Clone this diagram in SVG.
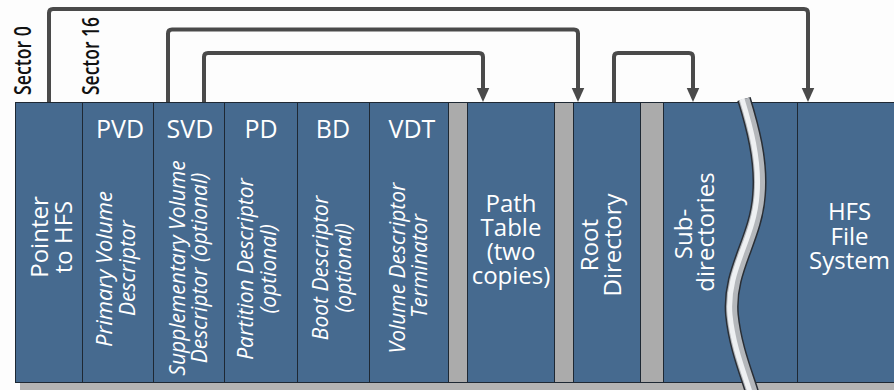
<svg xmlns="http://www.w3.org/2000/svg" width="894" height="390" viewBox="0 0 894 390">
<style>
.blk{fill:#466a8f;stroke:#1e2833;stroke-width:1}
.gap{fill:#ababab;stroke:#1e2833;stroke-width:1}
.hd{font-family:"Open Sans","Noto Sans",sans-serif;font-size:25px;fill:#fff;text-anchor:middle}
.big{font-family:"Open Sans","Noto Sans",sans-serif;font-size:24px;fill:#fff;text-anchor:middle}
.it{font-family:"Open Sans","Noto Sans",sans-serif;font-size:21px;font-style:italic;fill:#fff;text-anchor:middle}
.sec{font-family:"Open Sans","Noto Sans",sans-serif;font-size:23px;font-weight:600;fill:#111}
.con{fill:none;stroke:#4a4a4a;stroke-width:4;stroke-linejoin:round}
</style>
<defs>
<marker id="arr" markerUnits="userSpaceOnUse" markerWidth="15" markerHeight="14" viewBox="0 0 15 14" refX="0.5" refY="7" orient="auto">
<path d="M0,0.5 L14.5,7 L0,13.5 Z" fill="#4a4a4a"/>
</marker>
</defs>
<rect x="0" y="0" width="894" height="390" fill="#fdfdfd"/>
<rect x="20" y="383" width="880" height="7" fill="#b3b3b3"/>

<g id="pointer"><rect class="blk" x="15.5" y="102.5" width="67" height="280"/>
<text class="big" font-size="27" transform="translate(48,237) rotate(-90)">Pointer</text>
<text class="big" font-size="27" transform="translate(72,237) rotate(-90)">to HFS</text></g>

<g id="pvd"><rect class="blk" x="82.5" y="102.5" width="71" height="280"/>
<text class="hd" x="120" y="138">PVD</text>
<text class="it" textLength="156" lengthAdjust="spacingAndGlyphs" transform="translate(112,269) rotate(-90)">Primary Volume</text>
<text class="it" transform="translate(135,268) rotate(-90)">Descriptor</text></g>

<g id="svd"><rect class="blk" x="153.5" y="102.5" width="71" height="280"/>
<text class="hd" x="190" y="138">SVD</text>
<text class="it" transform="translate(185,268) rotate(-90)">Supplementary Volume</text>
<text class="it" transform="translate(207,268) rotate(-90)">Descriptor (optional)</text></g>

<g id="pd"><rect class="blk" x="224.5" y="102.5" width="73" height="280"/>
<text class="hd" x="261" y="138">PD</text>
<text class="it" transform="translate(253,269) rotate(-90)">Partition Descriptor</text>
<text class="it" transform="translate(276,269) rotate(-90)">(optional)</text></g>

<g id="bd"><rect class="blk" x="297.5" y="102.5" width="72" height="280"/>
<text class="hd" x="333" y="138">BD</text>
<text class="it" transform="translate(328,268) rotate(-90)">Boot Descriptor</text>
<text class="it" transform="translate(351,268) rotate(-90)">(optional)</text></g>

<g id="vdt"><rect class="blk" x="369.5" y="102.5" width="79" height="280"/>
<text class="hd" x="412" y="138">VDT</text>
<text class="it" transform="translate(405,268) rotate(-90)">Volume Descriptor</text>
<text class="it" transform="translate(427,266) rotate(-90)">Terminator</text></g>

<g id="gap1"><rect class="gap" x="448.5" y="102.5" width="19" height="280"/></g>

<g id="pathtable"><rect class="blk" x="467.5" y="102.5" width="87" height="280"/>
<text class="big" x="511" y="212">Path</text>
<text class="big" x="511" y="236">Table</text>
<text class="big" x="511" y="260">(two</text>
<text class="big" x="511" y="284">copies)</text></g>

<g id="gap2"><rect class="gap" x="554.5" y="102.5" width="19" height="280"/></g>

<g id="root"><rect class="blk" x="573.5" y="102.5" width="67" height="280"/>
<text class="big" font-size="25" transform="translate(598,245) rotate(-90)">Root</text>
<text class="big" font-size="25" transform="translate(621,245) rotate(-90)">Directory</text></g>

<g id="gap3"><rect class="gap" x="640.5" y="102.5" width="23" height="280"/></g>

<g id="subdirs"><rect class="blk" x="663.5" y="102.5" width="134" height="280"/>
<text class="big" font-size="25" transform="translate(692,234) rotate(-90)">Sub-</text>
<text class="big" font-size="25" transform="translate(714,232) rotate(-90)">directories</text></g>

<g id="break">
<path d="M744 99 C752 125,762 160,759 195 C756 240,728 270,732 315 C735 345,745 370,752 392" fill="none" stroke="#2a2f36" stroke-width="14"/>
<path d="M744 99 C752 125,762 160,759 195 C756 240,728 270,732 315 C735 345,745 370,752 392" fill="none" stroke="#b4b7bb" stroke-width="11"/>
<path d="M742 99 C750 125,760 160,757 195 C754 240,726 270,730 315 C733 345,743 370,750 392" fill="none" stroke="#eef0f2" stroke-width="5"/>
</g>

<g id="hfs"><rect class="blk" x="797.5" y="102.5" width="110" height="280"/>
<text class="big" x="849.5" y="220">HFS</text>
<text class="big" x="849.5" y="245">File</text>
<text class="big" x="849.5" y="269">System</text></g>

<g id="labels">
<text class="sec" textLength="69" lengthAdjust="spacingAndGlyphs" transform="translate(31,95) rotate(-90)">Sector 0</text>
<text class="sec" textLength="78" lengthAdjust="spacingAndGlyphs" transform="translate(99,95) rotate(-90)">Sector 16</text>
</g>

<g id="connectors">
<path class="con" d="M49 102 V13 Q49 9 53 9 H804 Q808 9 808 13 V88" marker-end="url(#arr)"/>
<path class="con" d="M168 102 V33.5 Q168 29.5 172 29.5 H574 Q578 29.5 578 33.5 V88" marker-end="url(#arr)"/>
<path class="con" d="M204 102 V57 Q204 53 208 53 H479 Q483 53 483 57 V88" marker-end="url(#arr)"/>
<path class="con" d="M614 102 V57 Q614 53 618 53 H689 Q693 53 693 57 V88" marker-end="url(#arr)"/>
</g>
</svg>
